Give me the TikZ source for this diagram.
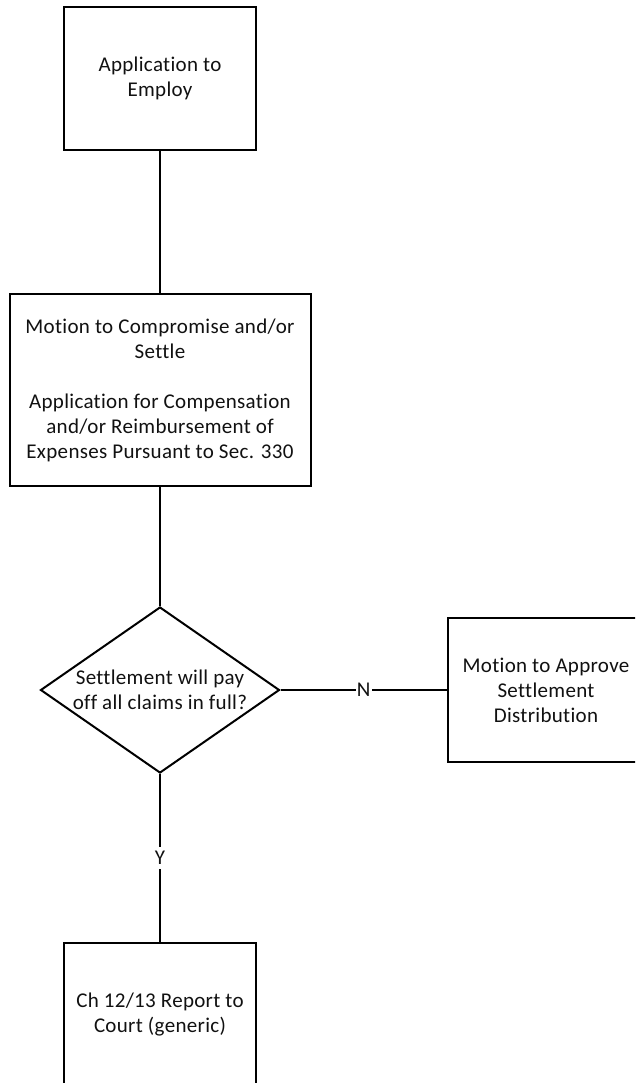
\documentclass[tikz,border=0pt]{standalone}
\usepackage{fontspec}
\setmainfont{Carlito}[Ligatures=NoCommon, LetterSpace=1.5]
\usetikzlibrary{shapes.geometric}
\definecolor{lineclr}{HTML}{000000}
\definecolor{txtclr}{HTML}{111111}
\tikzset{
  box/.style={
    rectangle, draw=lineclr, line width=2pt, fill=white,
    text=txtclr, font=\fontsize{21}{25}\selectfont,
    minimum width=192pt, minimum height=143pt, align=center
  },
  decision/.style={
    diamond, aspect=1.44, draw=lineclr, line width=2pt, fill=white,
    text=txtclr, font=\fontsize{21}{25}\selectfont, inner sep=0pt,
    minimum width=239pt, minimum height=166pt, align=center
  },
  conn/.style={line width=2pt, lineclr},
  lbl/.style={fill=white, text=txtclr, inner xsep=1pt, inner ysep=4pt, font=\fontsize{21}{25}\selectfont},
}
\begin{document}
\begin{tikzpicture}[x=1pt, y=-1pt]
\useasboundingbox (0,0) rectangle (635,1083);
\clip (0,0) rectangle (635,1083);

% --- Steps ---
\node[box] (employ) at (160,78.5) {Application to\\Employ};
\node[box, minimum width=301pt, minimum height=192pt] (settle) at (160,390)
  {Motion to Compromise and/or\\Settle\\[25pt]Application for Compensation\\and/or Reimbursement of\\Expenses Pursuant to Sec. 330};
\node[decision] (payoff) at (160,690) {Settlement will pay\\off all claims in full?};
\node[box, minimum width=196pt, minimum height=144pt] (approve) at (546,690) {Motion to Approve\\Settlement\\Distribution};
\node[box] (report) at (160,1014.5) {Ch 12/13 Report to\\Court (generic)};

% --- Connectors ---
\draw[conn] (employ) -- (settle);
\draw[conn] (settle) -- (payoff);
\draw[conn] (payoff) -- node[lbl] {N} (approve);
\draw[conn] (payoff) -- node[lbl] {Y} (report);

\end{tikzpicture}
\end{document}
